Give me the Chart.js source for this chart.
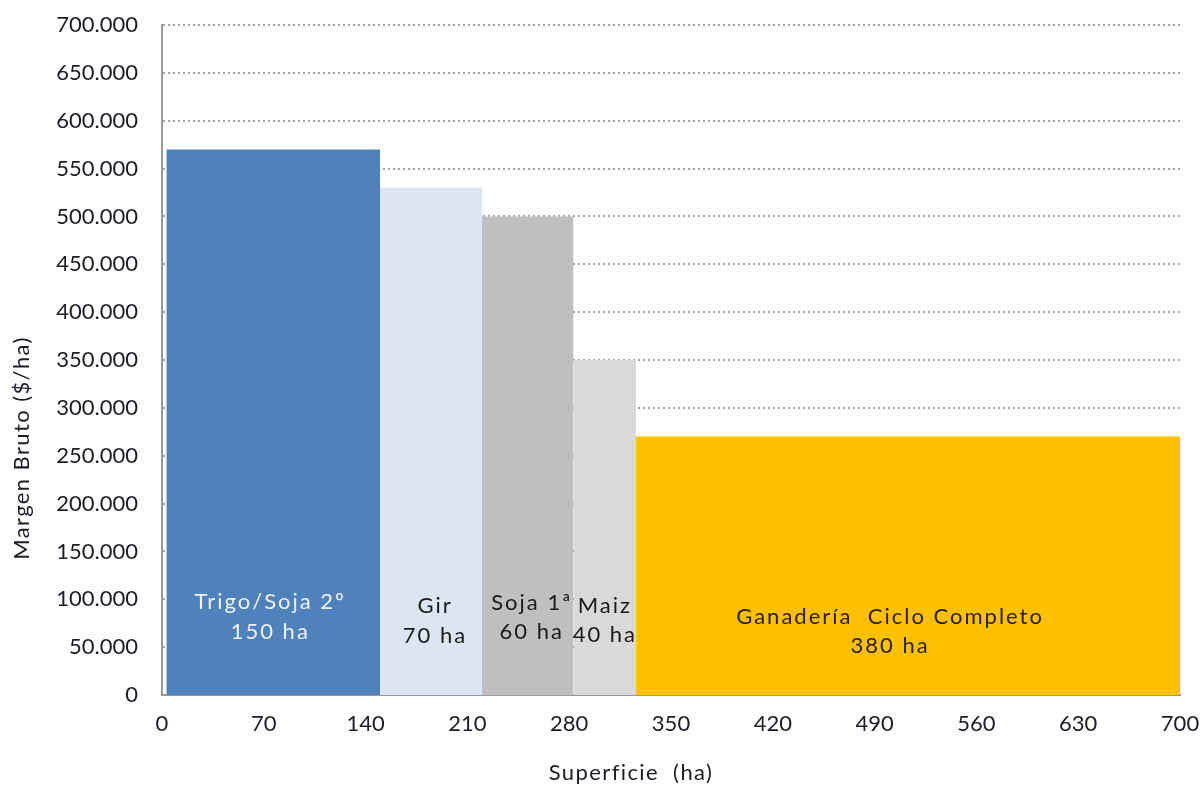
<!DOCTYPE html>
<html>
<head>
<meta charset="utf-8">
<script src="https://cdn.jsdelivr.net/npm/chart.js@4/dist/chart.umd.min.js"></script>
<style>
html,body{margin:0;padding:0;background:#fff;}
#wrap{width:1202px;height:786px;}
</style>
</head>
<body>
<div id="wrap"><canvas id="c" width="1202" height="786"></canvas></div>
<script>
// Data
const categories = ["Trigo/Soja 2º", "Gir", "Soja 1ª", "Maiz", "Ganadería  Ciclo Completo"];
const areaLabels = ["150 ha", "70 ha", "60 ha", "40 ha", "380 ha"];
const xStart = [3, 150, 220, 283, 326];
const xEnd = [150, 220, 283, 326, 700];
const margenBruto = [570000, 530000, 500000, 350000, 270000];
const xTicks = [0, 70, 140, 210, 280, 350, 420, 490, 560, 630, 700];
const yTicks = [0, 50000, 100000, 150000, 200000, 250000, 300000, 350000, 400000, 450000, 500000, 550000, 600000, 650000, 700000];
const xTitle = "Superficie  (ha)";
const yTitle = "Margen Bruto ($/ha)";

// Styles
const fillColors = ["#4f81bd", "#dce6f2", "#bfbfbf", "#d9d9d9", "#ffc000"];
const textColors = ["#eef3fa", "#1a1a1a", "#1a1a1a", "#1a1a1a", "#2a2000"];
const labelStyle = [
  {dx: -3, y1: 602, y2: 632},
  {dx: 4, y1: 606, y2: 636},
  {dx: 4, y1: 603, y2: 632},
  {dx: 0, y1: 606, y2: 635},
  {dx: -18, y1: 617, y2: 646}
];
const FONT = "Lato, 'DejaVu Sans', sans-serif";
const TXT = "#1c1c28";

const datasets = categories.map((name, i) => ({
  label: name,
  data: [{x: xStart[i], y: margenBruto[i]}, {x: xEnd[i], y: margenBruto[i]}],
  backgroundColor: fillColors[i],
  borderColor: fillColors[i],
  borderWidth: 0,
  pointRadius: 0,
  fill: 'origin',
  tension: 0
}));

const fmt = v => v === 0 ? "0" : v.toString().replace(/\B(?=(\d{3})+(?!\d))/g, ".");

const textPlugin = {
  id: 'textPlugin',
  afterDatasetsDraw(chart) {
    const ctx = chart.ctx, xs = chart.scales.x;
    ctx.save();
    ctx.font = "22px " + FONT;
    ctx.letterSpacing = "2px";
    ctx.textAlign = "center";
    ctx.textBaseline = "middle";
    categories.forEach((name, i) => {
      const cx = (xs.getPixelForValue(xStart[i]) + xs.getPixelForValue(xEnd[i])) / 2 + labelStyle[i].dx;
      ctx.fillStyle = textColors[i];
      ctx.fillText(name, cx, labelStyle[i].y1);
      ctx.fillText(areaLabels[i], cx, labelStyle[i].y2);
    });
    ctx.restore();
  },
  afterDraw(chart) {
    const ctx = chart.ctx;
    ctx.save();
    ctx.font = "22px " + FONT;
    ctx.letterSpacing = "1.4px";
    ctx.fillStyle = TXT;
    ctx.textAlign = "center";
    ctx.textBaseline = "middle";
    ctx.fillText(xTitle, 631, 773);
    ctx.translate(22, 448);
    ctx.rotate(-Math.PI / 2);
    ctx.fillText(yTitle, 0, 0);
    ctx.restore();
  }
};

const noOverflow = s => { s.paddingTop = 0; s.paddingBottom = 0; s.paddingLeft = 0; s.paddingRight = 0; };

new Chart(document.getElementById('c'), {
  type: 'line',
  data: {datasets},
  options: {
    responsive: false,
    animation: false,
    layout: {padding: {top: 25, right: 22, left: 4, bottom: 0}},
    plugins: {legend: {display: false}, tooltip: {enabled: false}},
    scales: {
      x: {
        type: 'linear', min: 0, max: 700,
        afterBuildTicks: s => { s.ticks = xTicks.map(v => ({value: v})); },
        afterFit: s => { s.height = 91; noOverflow(s); },
        ticks: {font: {size: 22, family: FONT}, color: TXT, padding: 16, maxRotation: 0},
        grid: {display: false, drawTicks: false},
        border: {display: true, color: "#9a9a9a", width: 2}
      },
      y: {
        min: 0, max: 700000,
        afterBuildTicks: s => { s.ticks = yTicks.map(v => ({value: v})); },
        afterFit: s => { s.width = 158; noOverflow(s); },
        ticks: {font: {size: 22, family: FONT}, color: TXT, padding: 24, callback: v => fmt(v)},
        grid: {color: "#a0a0a0", lineWidth: 2, drawTicks: false},
        border: {display: true, color: "#9a9a9a", width: 2, dash: [2, 3]}
      }
    }
  },
  plugins: [textPlugin]
});
</script>
</body>
</html>
